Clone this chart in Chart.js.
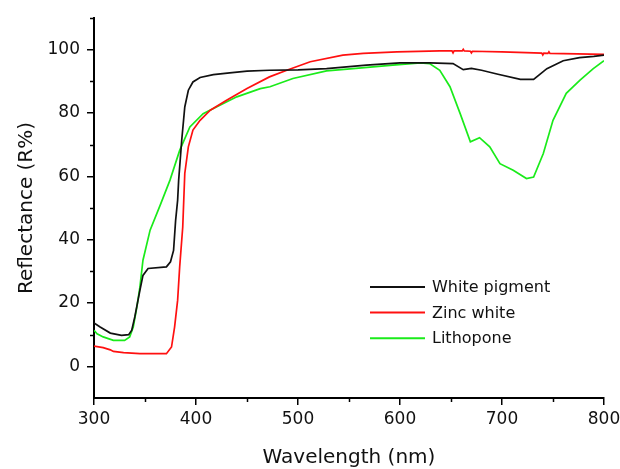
<!DOCTYPE html>
<html>
<head>
<meta charset="utf-8">
<script src="https://cdn.jsdelivr.net/npm/chart.js@4"></script>
<style>
  html, body { margin: 0; padding: 0; background: #fff; }
  #wrap { width: 620px; height: 469px; position: relative; }
</style>
</head>
<body>
<div id="wrap"><canvas id="reflChart"></canvas></div>
<script>
// Reflectance spectra
const whiteX = [300, 306, 316, 327, 334, 337, 340, 345, 348, 353, 371, 375, 378, 380, 382, 383, 386, 389, 392.5, 397, 404, 417, 433, 450, 472, 500, 528, 567, 600, 629, 652, 662, 670, 680, 695, 718, 731, 744, 760, 776, 790, 800];
const whiteY = [13.7, 12.4, 10.5, 9.8, 10, 11.4, 15.6, 24, 28.7, 30.9, 31.4, 33, 36.6, 46, 52.5, 58.8, 71.4, 81.9, 87.2, 89.8, 91.2, 92.1, 92.7, 93.2, 93.5, 93.6, 94, 95.1, 95.8, 95.8, 95.6, 93.7, 94.1, 93.5, 92.3, 90.6, 90.6, 94, 96.5, 97.5, 97.9, 98.3];

const zincX = [300, 309, 316, 319, 329, 345, 371, 376, 379, 382, 384, 387, 389, 392.5, 397, 404, 414, 430, 450, 472, 489, 512, 544, 564, 597, 639, 651, 652, 653, 661, 662, 663, 669, 670, 671, 700, 739, 740, 741, 745, 746, 747, 800];
const zincY = [6.4, 5.9, 5.2, 4.7, 4.3, 4, 4, 6.1, 12.4, 20.9, 31.4, 44, 60.9, 69.3, 74.6, 77.7, 80.9, 84, 87.7, 91.4, 93.5, 96.2, 98.3, 98.8, 99.3, 99.6, 99.6, 99.0, 99.6, 99.6, 100.1, 99.6, 99.5, 99.0, 99.5, 99.3, 98.9, 98.3, 98.9, 98.8, 99.3, 98.8, 98.5];

const lithoX = [300, 303, 309, 319, 330, 335, 338.5, 342, 345, 348, 355, 365, 374.5, 384, 394, 407, 420, 440, 463, 472.5, 495, 528, 554, 593, 620, 629, 639, 649, 659, 669, 678, 688, 698, 711, 724, 731, 740.5, 750, 763, 776.5, 789.5, 800];
const lithoY = [11.4, 10.3, 9.3, 8.2, 8.2, 9.3, 12.4, 18.7, 25, 33.5, 43, 51, 58.8, 68.2, 75.6, 79.8, 81.9, 85.1, 87.7, 88.3, 90.9, 93.3, 94, 95.1, 95.8, 95.6, 93.5, 88.3, 79.8, 70.9, 72.2, 69.3, 64, 61.9, 59.3, 59.8, 67.2, 77.7, 86.2, 90.4, 94, 96.5];

const seriesNames = ['White pigment', 'Zinc white', 'Lithopone'];
const xTicks = [300, 400, 500, 600, 700, 800];
const yTicks = [0, 20, 40, 60, 80, 100];
const xMinor = [350, 450, 550, 650, 750];
const yMinor = [10, 30, 50, 70, 90, 110];

const toPoints = (xs, ys) => xs.map((x, i) => ({ x: x, y: ys[i] }));
const FONT = "'DejaVu Sans', Verdana, sans-serif";

// minor ticks + in-plot legend
const extras = {
    id: 'extras',
    afterDraw(chart) {
        const { ctx, chartArea, scales: { x, y } } = chart;
        ctx.save();
        ctx.strokeStyle = '#000';
        ctx.lineWidth = 1.5;
        xMinor.forEach(v => {
            const px = Math.round(x.getPixelForValue(v)) + 0.5;
            ctx.beginPath(); ctx.moveTo(px, x.top); ctx.lineTo(px, x.top + 4); ctx.stroke();
        });
        yMinor.forEach(v => {
            const py = Math.round(y.getPixelForValue(v)) + 0.5;
            ctx.beginPath(); ctx.moveTo(y.right, py); ctx.lineTo(y.right - 4, py); ctx.stroke();
        });

        // legend
        const lx = chartArea.left + 276;
        let ly = chartArea.top + 269;
        ctx.font = '16px ' + FONT;
        ctx.textBaseline = 'middle';
        ctx.textAlign = 'left';
        chart.data.datasets.forEach(ds => {
            ctx.strokeStyle = ds.borderColor;
            ctx.lineWidth = 2;
            ctx.beginPath(); ctx.moveTo(lx, ly); ctx.lineTo(lx + 55, ly); ctx.stroke();
            ctx.fillStyle = '#111';
            ctx.fillText(ds.label, lx + 62, ly + 1);
            ly += 25.6;
        });
        ctx.restore();
    }
};

let ctx = document.getElementById('reflChart').getContext('2d');

let reflChart = new Chart(ctx, {
    type: 'line',
    data: {
        datasets: [
            { label: seriesNames[0], data: toPoints(whiteX, whiteY), borderColor: '#111111' },
            { label: seriesNames[1], data: toPoints(zincX, zincY), borderColor: '#ff1010' },
            { label: seriesNames[2], data: toPoints(lithoX, lithoY), borderColor: '#1aeb1a' }
        ]
    },
    options: {
        responsive: true,
        maintainAspectRatio: false,
        animation: false,
        devicePixelRatio: 1,
        layout: { padding: { top: 18, right: 16, left: 0, bottom: 0 } },
        elements: {
            point: { radius: 0 },
            line: { borderWidth: 1.7, tension: 0 }
        },
        plugins: {
            legend: { display: false },
            tooltip: { enabled: false }
        },
        scales: {
            x: {
                type: 'linear',
                min: 300,
                max: 800,
                afterBuildTicks: s => { s.ticks = xTicks.map(v => ({ value: v })); },
                afterFit: s => { s.height = 71; s.paddingLeft = 0; s.paddingRight = 0; },
                border: { display: true, color: '#000', width: 2 },
                grid: { drawOnChartArea: false, drawTicks: true, tickLength: 7, color: '#000', lineWidth: 1.5 },
                ticks: { color: '#111', padding: 4, font: { family: FONT, size: 17 } },
                title: {
                    display: true,
                    text: 'Wavelength (nm)',
                    color: '#111',
                    font: { family: FONT, size: 20, lineHeight: 1 },
                    padding: { top: 0, bottom: 1 }
                }
            },
            y: {
                type: 'linear',
                min: -10,
                max: 110,
                afterBuildTicks: s => { s.ticks = yTicks.map(v => ({ value: v })); },
                afterFit: s => { s.width = 94; s.paddingTop = 0; s.paddingBottom = 0; },
                border: { display: true, color: '#000', width: 2 },
                grid: { drawOnChartArea: false, drawTicks: true, tickLength: 7, color: '#000', lineWidth: 1.5 },
                ticks: { color: '#111', padding: 7, font: { family: FONT, size: 17 } },
                title: {
                    display: true,
                    text: 'Reflectance (R%)',
                    color: '#111',
                    font: { family: FONT, size: 20, lineHeight: 1.2 },
                    padding: { top: 15, bottom: 0 }
                }
            }
        }
    },
    plugins: [extras]
});
</script>
</body>
</html>
